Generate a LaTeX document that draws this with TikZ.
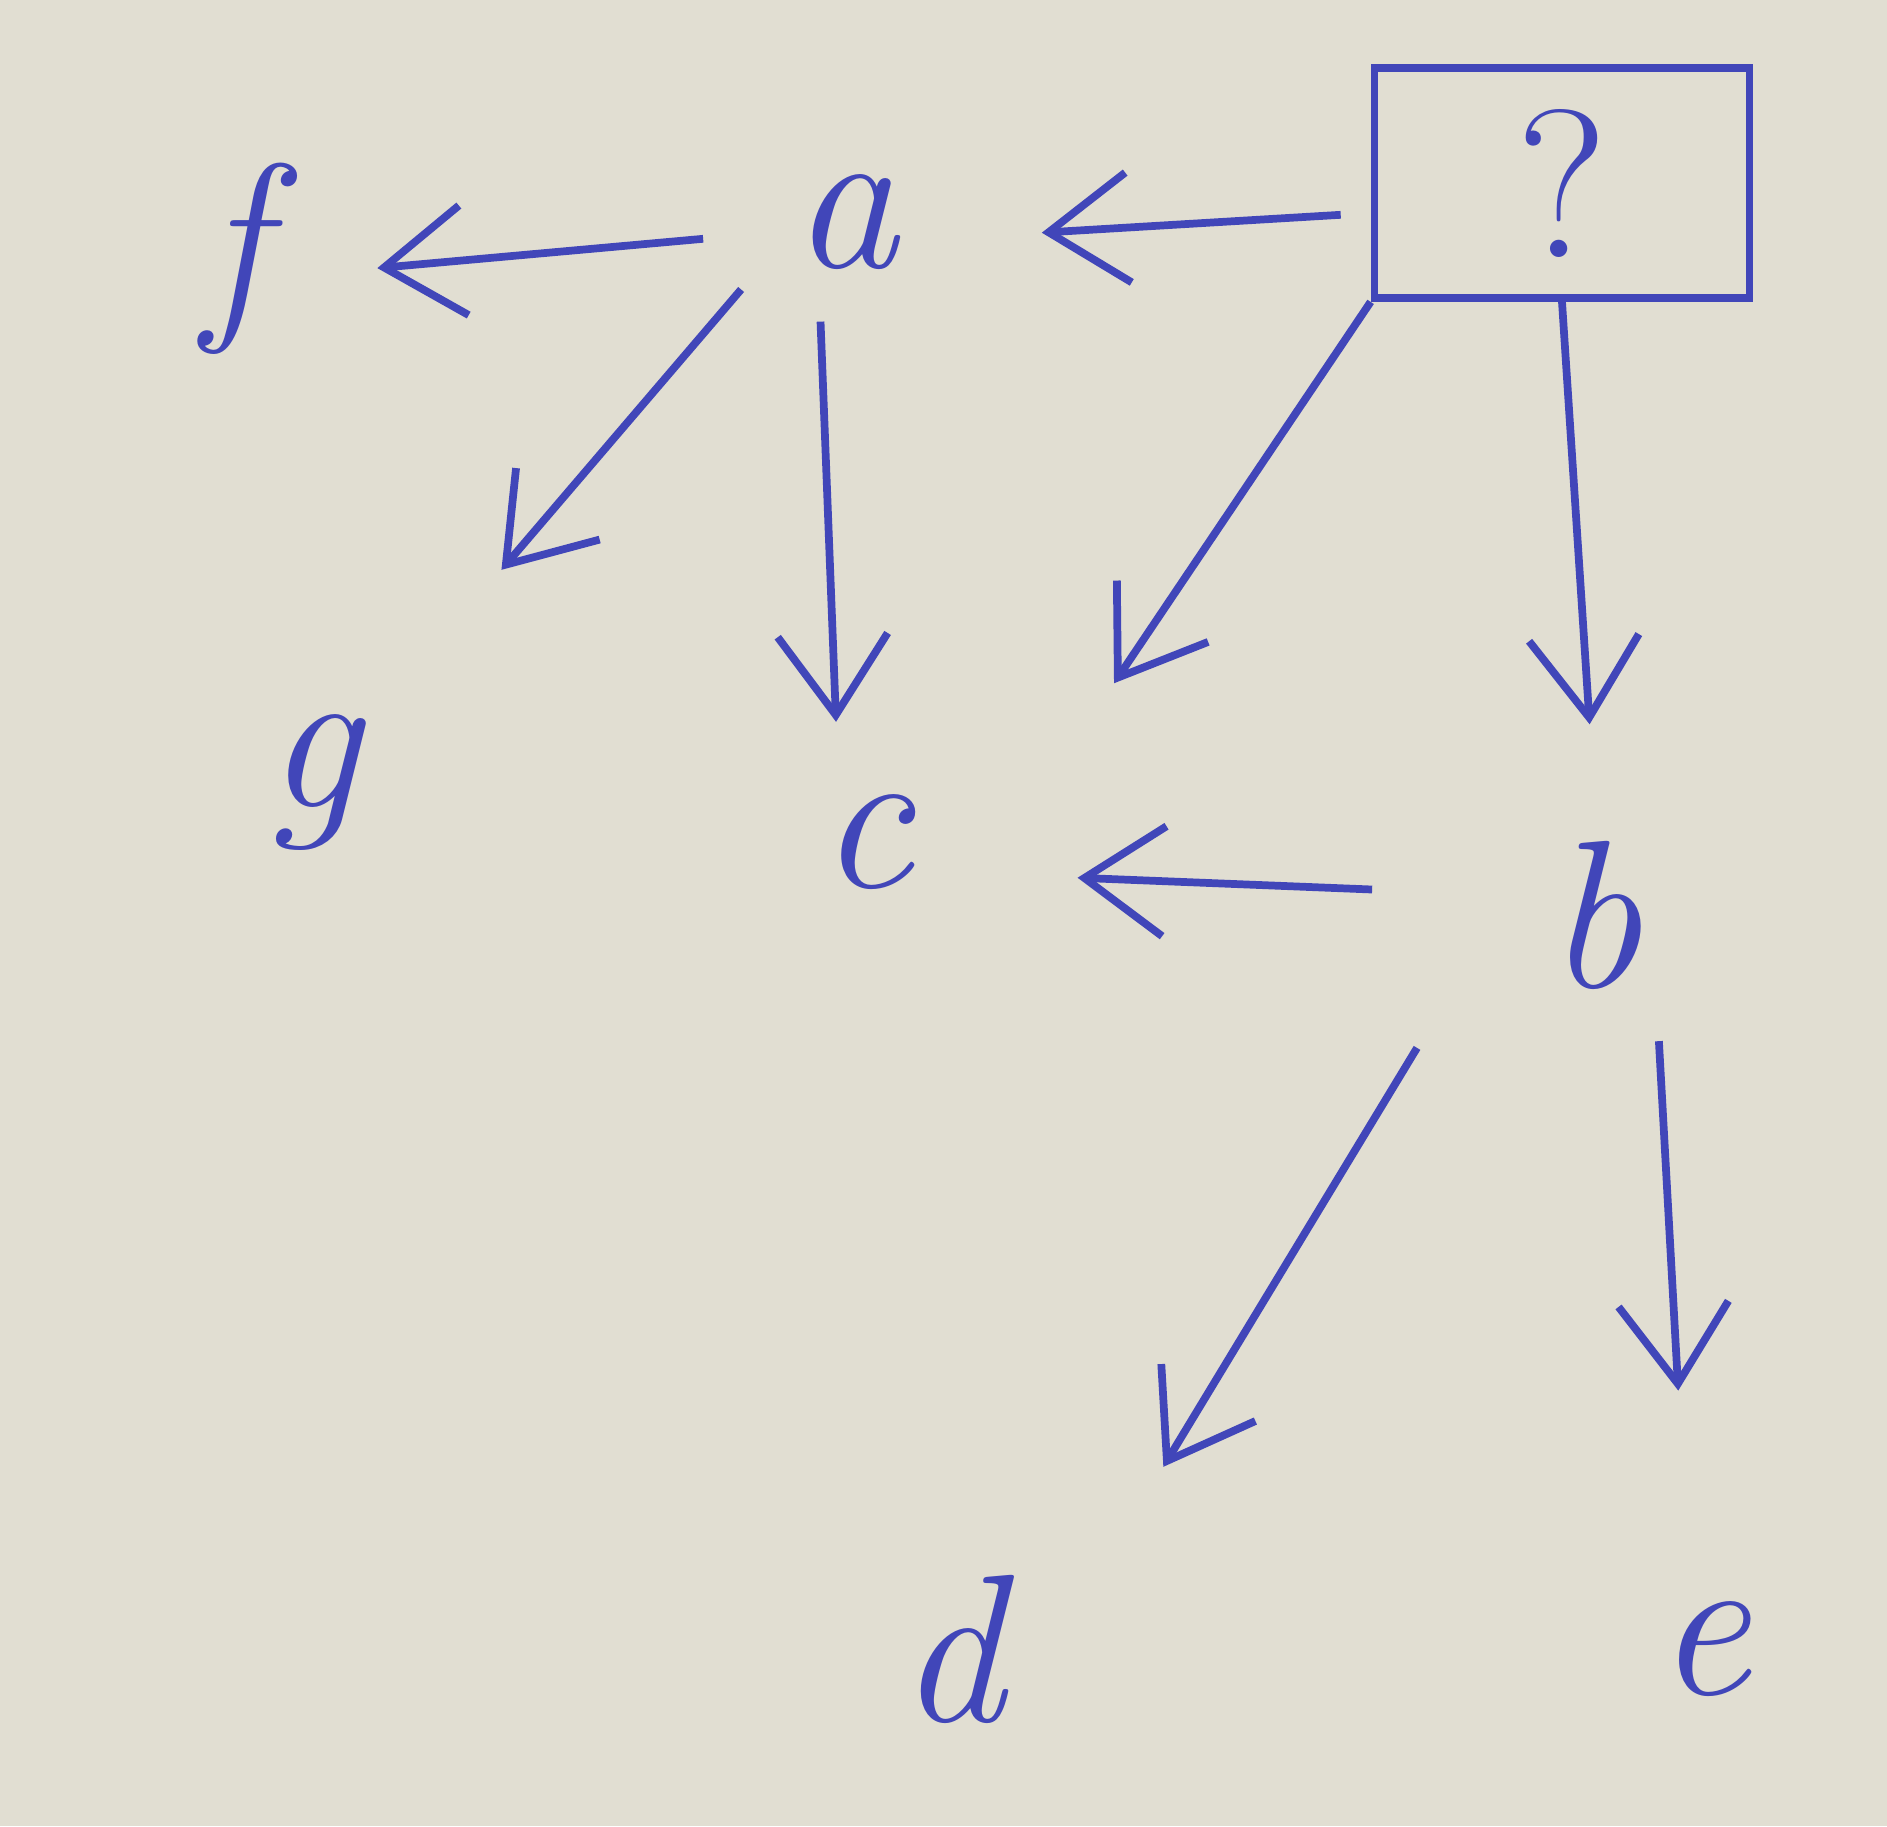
\documentclass[tikz,border=0pt]{standalone}
\usetikzlibrary{arrows.meta}
\definecolor{paper}{RGB}{225,222,210}
\definecolor{ink}{RGB}{65,70,185}
\tikzset{every picture/.style = {line width=2.2pt, ink}}
\tikzset{letter/.style = {shape=circle, minimum size=2.4cm, inner sep=0,
    font=\fontsize{60}{64}\selectfont\itshape}}
\tikzset{qbox/.style = {draw, minimum width=3.75cm, minimum height=2.3cm,
    font=\fontsize{60}{64}\selectfont}}
\tikzset{arr/.style = {-{Straight Barb[length=8mm, width=11mm]}}}

\begin{document}
\begin{tikzpicture}
  \fill[paper] (0, 0) rectangle (18.87, -18.26);
  \useasboundingbox (0, 0) rectangle (18.87, -18.26);
  % letters
  \node[letter] (f) at (2.35, -2.59) {f};
  \node[letter] (a) at (8.45, -2.22) {a};
  \node[qbox] (q) at (15.62, -1.83) {?};
  \node[letter] (g) at (3.13, -7.82) {g};
  \node[letter] (c) at (8.66, -8.42) {c};
  \node[letter] (b) at (15.94, -9.15) {b};
  \node[letter] (d) at (9.51, -16.49) {d};
  \node[letter] (e) at (17.03, -16.49) {e};
  % arrows
  \draw[arr, shorten <=0.19cm, shorten >=0.19cm] (a.187) -- (f.355);
  \draw[arr, shorten <=0.3cm, shorten >=0.74cm] ([yshift=-0.3cm]q.west) -- (a.353);
  \draw[arr, shorten >=1.6cm] (a.213) -- (g.47);
  \draw[arr, shorten <=-0.22cm] (a.259) -- (c.104);
  \draw[arr, shorten >=2.3cm] (q.south west) -- (c.345);
  \draw[arr, shorten >=0.67cm] (q.south) -- (b.90);
  \draw[arr, shorten <=1cm, shorten >=0.92cm] (b.170) -- (c.345);
  \draw[arr, shorten <=1.13cm, shorten >=1.78cm] (b.197) -- (d.14);
  \draw[arr, shorten <=0.2cm, shorten >=1.36cm] (b.301) -- (e.98);
\end{tikzpicture}
\end{document}
